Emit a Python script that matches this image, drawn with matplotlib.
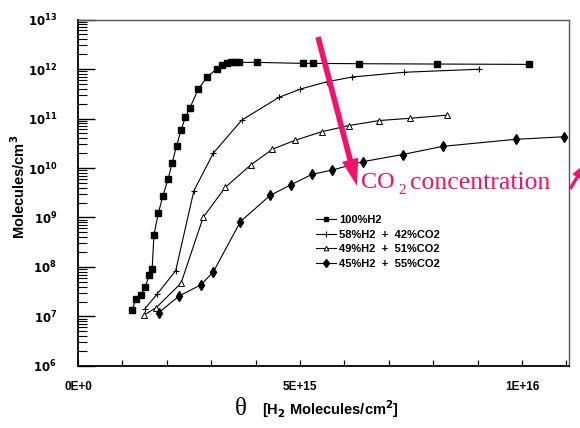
"""Recreate the CO2 / H2 adsorption chart."""

import matplotlib
matplotlib.use("Agg")
import matplotlib.pyplot as plt
from matplotlib.ticker import LogLocator, MultipleLocator, NullFormatter

# coverage values (x, in units of 1e15 molecules/cm2) and densities (molecules/cm3)
h2_x = [1.21, 1.31, 1.41, 1.51, 1.61, 1.67, 1.71, 1.81, 1.91, 2.03, 2.12, 2.22,
        2.32, 2.42, 2.52, 2.71, 2.91, 3.12, 3.24, 3.35, 3.44, 3.54, 3.63, 4.04,
        5.07, 5.30, 6.32, 8.08, 10.15]
h2_y = [1.35e7, 2.26e7, 2.72e7, 3.94e7, 6.9e7, 9.1e7, 4.4e8, 1.23e9, 2.7e9, 6.0e9,
        1.26e10, 2.78e10, 5.86e10, 1.07e11, 1.63e11, 3.94e11, 6.9e11, 1.0e12,
        1.2e12, 1.34e12, 1.36e12, 1.36e12, 1.36e12, 1.36e12, 1.30e12, 1.30e12,
        1.28e12, 1.26e12, 1.24e12]

co2_42_x = [1.51, 1.79, 2.20, 2.61, 3.05, 3.69, 4.53, 5.01, 5.60, 6.18, 7.35, 9.04]
co2_42_y = [1.45e7, 2.89e7, 8.4e7, 3.47e9, 2.01e10, 9.3e10, 2.68e11, 3.94e11,
            5.5e11, 6.9e11, 8.6e11, 9.9e11]

co2_51_x = [1.49, 1.76, 2.32, 2.82, 3.32, 3.89, 4.38, 4.89, 5.49, 6.10, 6.79,
            7.48, 8.32]
co2_51_y = [1.07e7, 1.51e7, 4.69e7, 1.01e9, 4.09e9, 1.15e10, 2.4e10, 3.63e10,
            5.4e10, 7.2e10, 9.1e10, 1.01e11, 1.17e11]

co2_55_x = [1.82, 2.28, 2.77, 3.05, 3.66, 4.33, 4.80, 5.28, 5.73, 6.41, 7.31,
            8.22, 9.86, 10.95]
co2_55_y = [1.2e7, 2.6e7, 4.37e7, 8.0e7, 8.3e8, 2.8e9, 4.6e9, 7.5e9, 9.1e9,
            1.34e10, 1.87e10, 2.74e10, 3.8e10, 4.28e10]

labels = ["100%H2", "58%H2  +  42%CO2", "49%H2  +  51%CO2", "45%H2  +  55%CO2"]
xtick_values = [0, 5e15, 1e16]
xtick_labels = ["0E+0", "5E+15", "1E+16"]

SANS = ["Liberation Sans Narrow", "Liberation Sans", "DejaVu Sans"]
PINK = "#F5106C"


def fpx(x, y):
    """Figure pixel (from top-left) to figure fraction."""
    return x / 580, 1 - y / 428


def main() -> None:
    plt.rcParams["font.family"] = SANS
    plt.rcParams["font.weight"] = "bold"
    plt.rcParams["mathtext.fontset"] = "custom"
    plt.rcParams["mathtext.bf"] = "Liberation Sans Narrow:bold"
    plt.rcParams["mathtext.rm"] = "Liberation Sans Narrow:bold"

    fig = plt.figure(figsize=(5.8, 4.28), dpi=100)
    ax = fig.add_axes([0.1345, 0.1449, 0.8465, 0.8095])

    scale = 1e15
    series = [
        (h2_x, h2_y, dict(marker="s", ms=4.4, mfc="black")),
        (co2_42_x, co2_42_y, dict(marker="+", ms=5, mew=0.8)),
        (co2_51_x, co2_51_y, dict(marker="^", ms=4.2, mfc="white", mew=0.7)),
        (co2_55_x, co2_55_y, dict(marker="d", ms=5.5, mfc="black")),
    ]
    for (xs, ys, style), label in zip(series, labels):
        ax.plot([v * scale for v in xs], ys, color="black", lw=0.8,
                mec="black", label=label, **style)

    ax.set_yscale("log")
    ax.set_ylim(1e6, 1e13)
    ax.set_xlim(0, 11.06e15)

    ax.yaxis.set_minor_locator(LogLocator(base=10, subs=range(2, 10), numticks=20))
    ax.yaxis.set_minor_formatter(NullFormatter())
    ax.set_yticks([10.0 ** k for k in range(6, 14)],
                  [r"$\mathbf{10^{%d}}$" % k for k in range(6, 14)])
    ax.set_xticks(xtick_values, xtick_labels)
    ax.xaxis.set_minor_locator(MultipleLocator(1e15))

    ax.tick_params(axis="y", which="major", direction="in", length=12,
                   width=1, pad=15, labelsize=8.5)
    ax.tick_params(axis="y", which="minor", direction="in", length=6.5, width=0.8)
    ax.tick_params(axis="x", which="both", direction="in", length=4.5,
                   width=0.9, pad=11, labelsize=8.5)
    for lab in ax.get_yticklabels() + ax.get_xticklabels():
        lab.set_fontweight("bold")

    for side in ("left", "bottom"):
        ax.spines[side].set_linewidth(1.3)
    for side in ("top", "right"):
        ax.spines[side].set_linewidth(1.0)
        ax.spines[side].set_color("#555555")

    fig.text(*fpx(19, 187), r"Molecules/cm$^\mathbf{3}$", fontsize=10.5,
             fontweight="bold", rotation=90, ha="center", va="center")

    # x label: serif theta plus bold bracket text
    fig.text(*fpx(241, 409), "\u03b8", fontsize=18, ha="center", va="center",
             family="Liberation Serif", weight="normal")
    fig.text(*fpx(262, 409), r"[H$_\mathbf{2}$ Molecules/cm$^\mathbf{2}$]",
             fontsize=10.5, fontweight="bold", ha="left", va="center")

    ax.legend(loc="upper left", bbox_to_anchor=fpx(316, 215),
              bbox_transform=fig.transFigure, frameon=False, fontsize=8,
              handlelength=1.8, handletextpad=0.3, labelspacing=0.42,
              borderpad=0, borderaxespad=0, markerscale=0.8)

    # CO2 concentration arrow and caption
    ax.annotate("", xy=fpx(357, 186), xytext=fpx(318, 37),
                xycoords="figure fraction", textcoords="figure fraction",
                arrowprops=dict(arrowstyle="simple,head_length=1.3,head_width=0.8,"
                                "tail_width=0.27", mutation_scale=15,
                                color=PINK, lw=0, shrinkA=0, shrinkB=0))
    serif = dict(family="Liberation Serif", weight="normal", color=PINK)
    fig.text(*fpx(361, 183), "CO", fontsize=17.5, ha="left", va="center", **serif)
    fig.text(*fpx(398, 191), "2", fontsize=11, ha="left", va="center", **serif)
    fig.text(*fpx(410, 183), "concentration", fontsize=18.5, ha="left",
             va="center", **serif)
    ax.annotate("", xy=fpx(586, 163), xytext=fpx(570, 189),
                xycoords="figure fraction", textcoords="figure fraction",
                annotation_clip=False,
                arrowprops=dict(arrowstyle="simple,head_length=1.0,head_width=0.7,"
                                "tail_width=0.2", mutation_scale=12,
                                color=PINK, lw=0, shrinkA=0, shrinkB=0))

    fig.savefig("out.png", dpi=100)
    plt.close(fig)


if __name__ == "__main__":
    main()
